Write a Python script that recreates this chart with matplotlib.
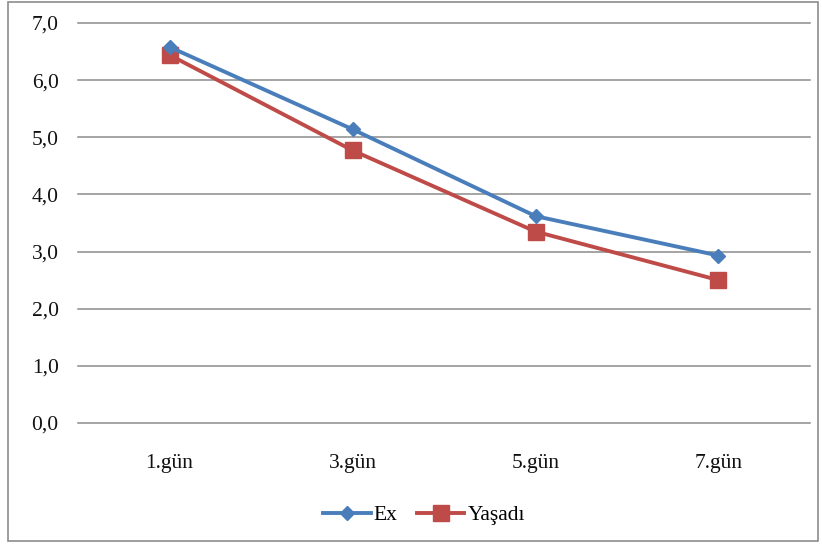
import matplotlib
matplotlib.use("Agg")
import matplotlib.pyplot as plt
from matplotlib.patches import Rectangle
from matplotlib.ticker import FuncFormatter

categories = ["1.gün", "3.gün", "5.gün", "7.gün"]
ex_values = [6.58, 5.14, 3.62, 2.93]
yasadi_values = [6.44, 4.77, 3.35, 2.50]
series_names = ["Ex", "Yaşadı"]

plt.rcParams['font.family'] = ['Liberation Serif', 'DejaVu Serif']

fig = plt.figure(figsize=(8.22, 5.47), dpi=100)
ax = fig.add_axes([0.0949, 0.2267, 0.8905, 0.7313])

x = list(range(len(categories)))
ax.plot(x, ex_values, color='#4a7ebb', lw=2.8, marker='D', ms=7.5,
        markeredgecolor='#4a7ebb', markerfacecolor='#4a7ebb', label=series_names[0], zorder=4)
ax.plot(x, yasadi_values, color='#be4b48', lw=2.8, marker='s', ms=11,
        markeredgecolor='#be4b48', markerfacecolor='#be4b48', label=series_names[1], zorder=3)

ax.set_xlim(-0.5, len(categories) - 0.5)
ax.set_ylim(0, 7)
ax.set_yticks([i for i in range(8)])
ax.yaxis.set_major_formatter(FuncFormatter(lambda v, p: f"{v:.1f}".replace('.', ',')))
ax.set_xticks(x)
ax.set_xticklabels(categories)
ax.grid(axis='y', color='#8c8c8c', lw=1.1)
for gl in ax.get_ygridlines():
    gl.set_clip_on(False)
ax.set_axisbelow(True)
for s in ax.spines.values():
    s.set_visible(False)
ax.tick_params(axis='both', length=0, labelsize=15.5, colors='#111111')
ax.tick_params(axis='y', pad=14)
ax.tick_params(axis='x', pad=22)

leg = fig.legend(loc='center', bbox_to_anchor=(0.516, 0.058), ncol=2, frameon=False,
                 fontsize=15.5, handlelength=2.2, columnspacing=0.9, handletextpad=0.15)

fig.patches.append(Rectangle((0.0097, 0.011), 0.985, 0.986, transform=fig.transFigure,
                             fill=False, edgecolor='#8c8c8c', lw=1.2))

fig.savefig("out.png", dpi=100, facecolor='white')
